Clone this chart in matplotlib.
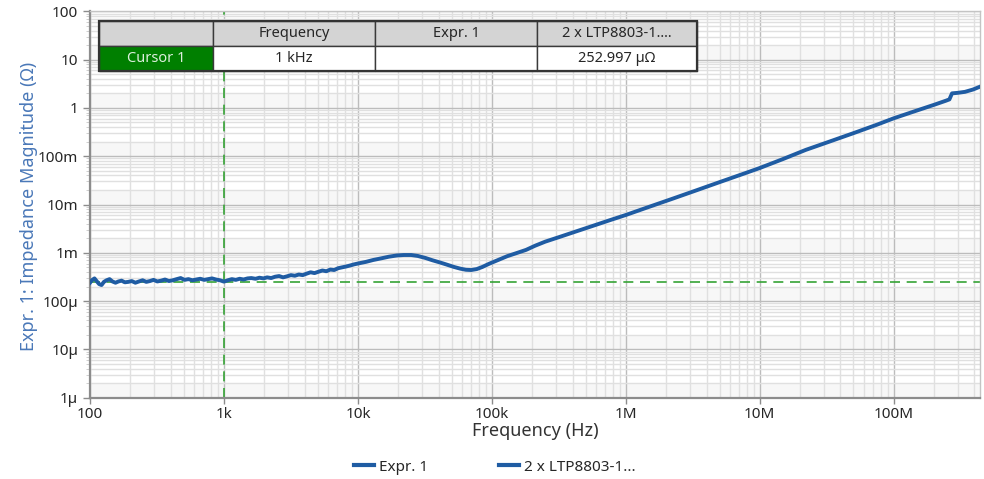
import matplotlib
matplotlib.use("Agg")
import matplotlib.pyplot as plt
from matplotlib.patches import Rectangle
from matplotlib.lines import Line2D
from matplotlib.ticker import LogLocator, NullFormatter, FixedLocator
import numpy as np

plt.rcParams["font.family"] = ["Noto Sans", "DejaVu Sans"]

# ---- measured impedance of 2 x LTP8803-1 (Hz, Ohm) ----
freq_hz = [
    100, 104, 108, 112, 117, 122, 127, 133, 140, 147, 155, 163, 172, 182, 193,
    205, 218, 232, 247, 263, 280, 298, 318, 340, 363, 388, 415, 444, 475, 508,
    543, 581, 622, 665, 712, 762, 815, 872, 933, 1000,
    1070, 1145, 1225, 1310, 1400, 1500, 1600, 1720, 1840, 1970, 2100, 2250,
    2410, 2580, 2760, 2950, 3160, 3380, 3620, 3870, 4140, 4430, 4740, 5070,
    5430, 5810, 6220, 6650, 7120, 7620, 8150, 8720, 9330, 10000,
    11500, 13000, 15000, 17000, 19500, 22000, 25000, 28000, 32000, 36000,
    41000, 46000, 52000, 58000, 64000, 70000, 77000, 85000, 95000, 110000,
    130000, 155000, 180000, 210000, 250000, 320000, 420000, 560000, 750000,
    1.0e6, 1.5e6, 2.2e6, 3.3e6, 5.0e6, 7.5e6, 1.0e7, 1.5e7, 2.2e7, 3.3e7,
    5.0e7, 7.5e7, 1.0e8, 1.5e8, 2.0e8, 2.45e8, 2.6e8, 2.72e8, 3.0e8, 3.4e8,
    3.9e8, 4.4e8,
]
impedance_uohm = [
    240, 275, 295, 260, 225, 215, 250, 270, 285, 255, 240, 255, 265, 245, 250,
    260, 240, 255, 270, 250, 260, 275, 255, 265, 280, 260, 270, 285, 300, 275,
    285, 270, 280, 290, 275, 285, 295, 280, 270, 253,
    270, 285, 275, 290, 280, 295, 300, 290, 305, 295, 310, 300,
    320, 330, 310, 325, 345, 335, 355, 345, 370, 395, 380, 405,
    430, 415, 450, 440, 480, 500, 520, 545, 575, 600,
    650, 710, 770, 830, 880, 900, 900, 860, 780, 700,
    630, 570, 510, 470, 445, 440, 460, 510, 590, 700,
    850, 1000, 1150, 1400, 1700, 2130, 2740, 3570, 4680,
    6070, 9000, 13000, 19300, 29000, 43000, 57000, 88000, 135000, 200000,
    300000, 450000, 610000, 890000, 1160000, 1410000, 1500000, 2000000, 2050000, 2150000,
    2400000, 2750000,
]

# ---- cursor readout ----
cursor_freq_hz = 1e3
cursor_value_ohm = 252.997e-6
table_header = ["", "Frequency", "Expr. 1", "2 x LTP8803-1...."]
table_row = ["Cursor 1", "1 kHz", "", "252.997 µΩ"]

# ---- axis ticks ----
x_ticks = [1e2, 1e3, 1e4, 1e5, 1e6, 1e7, 1e8]
x_tick_labels = ["100", "1k", "10k", "100k", "1M", "10M", "100M"]
y_ticks = [1e-6, 1e-5, 1e-4, 1e-3, 1e-2, 1e-1, 1, 10, 100]
y_tick_labels = ["1µ", "10µ", "100µ", "1m", "10m", "100m", "1", "10", "100"]

legend_labels = ["Expr. 1", "2 x LTP8803-1..."]

W, H = 984, 479
fig = plt.figure(figsize=(W / 100, H / 100), dpi=100)
fig.patch.set_facecolor("white")

ax_l, ax_r, ax_t, ax_b = 90, 980, 11.3, 397.7
ax = fig.add_axes([ax_l / W, 1 - ax_b / H, (ax_r - ax_l) / W, (ax_b - ax_t) / H])
ax.set_xscale("log")
ax.set_yscale("log")
ax.set_xlim(100, 4.4e8)
ax.set_ylim(1e-6, 100)

# shaded strip between 1 and 2 of every decade
for d in range(-6, 2):
    ax.axhspan(10.0 ** d, 2 * 10.0 ** d, color="#f7f7f7", lw=0, zorder=0)

ax.xaxis.set_major_locator(FixedLocator(x_ticks))
ax.set_xticklabels(x_tick_labels)
ax.yaxis.set_major_locator(FixedLocator(y_ticks))
ax.set_yticklabels(y_tick_labels)
for axis in (ax.xaxis, ax.yaxis):
    axis.set_minor_locator(LogLocator(base=10, subs=np.arange(2, 10), numticks=100))
    axis.set_minor_formatter(NullFormatter())

ax.set_axisbelow(True)
ax.grid(which="major", color="#bcbcbc", lw=1.0)
ax.grid(which="minor", color="#e0e0e0", lw=1.0)

ax.tick_params(axis="both", which="major", color="#8c8c8c", labelsize=11,
               labelcolor="#262626", width=1)
ax.tick_params(axis="y", which="major", length=5, pad=3.5)
ax.tick_params(axis="x", which="major", length=4, pad=2.5)
ax.tick_params(axis="y", which="minor", length=3, color="#c8c8c8")
ax.tick_params(axis="x", which="minor", length=0)

for side in ("left", "bottom"):
    ax.spines[side].set_color("#8c8c8c")
    ax.spines[side].set_linewidth(1.6)
for side in ("top", "right"):
    ax.spines[side].set_color("#c4c4c4")
    ax.spines[side].set_linewidth(1.0)

curve_color = "#1f5ca3"
cursor_color = "#36a336"

ax.axvline(cursor_freq_hz, color=cursor_color, lw=1.2, ls=(0, (6, 4)), zorder=2.5)
ax.axhline(cursor_value_ohm, color=cursor_color, lw=1.2, ls=(0, (6, 4)), zorder=2.5)

ax.plot([], [], color=curve_color, lw=2.8, label=legend_labels[0])
ax.plot(freq_hz, np.array(impedance_uohm) * 1e-6, color=curve_color, lw=2.8,
        solid_joinstyle="round", zorder=3, label=legend_labels[1])

ax.set_xlabel("Frequency (Hz)", fontsize=13, color="#333333")
ax.xaxis.set_label_coords(0.5, -0.064)
ax.set_ylabel("Expr. 1: Impedance Magnitude (Ω)", fontsize=13, color="#4a78b8")
ax.yaxis.set_label_coords(-0.058, 0.495)

# legend under the plot
handles = [Line2D([], [], color=curve_color, lw=3) for _ in legend_labels]
fig.legend(handles, legend_labels, loc="center", bbox_to_anchor=(0.503, 0.025),
           ncol=2, frameon=False, fontsize=11, handlelength=1.3,
           handletextpad=0.35, columnspacing=4.6, labelcolor="#262626")

# cursor readout table
col_edges = [99, 213, 375, 537, 697]
row_edges = [20.7, 45.7, 71]


def fx(px):
    return px / W


def fy(py):
    return 1 - py / H


for r, cells in enumerate([table_header, table_row]):
    y0, y1 = row_edges[r], row_edges[r + 1]
    for c, txt in enumerate(cells):
        x0, x1 = col_edges[c], col_edges[c + 1]
        if r == 0:
            face, tcol = "#d4d4d4", "#262626"
        elif c == 0:
            face, tcol = "#007f00", "#dcefdc"
        else:
            face, tcol = "white", "#262626"
        fig.add_artist(Rectangle((fx(x0), fy(y1)), fx(x1) - fx(x0), fy(y0) - fy(y1),
                                 transform=fig.transFigure, facecolor=face,
                                 edgecolor="#3a3a3a", lw=1.0, zorder=10))
        if txt:
            fig.text(fx((x0 + x1) / 2), fy((y0 + y1) / 2), txt, ha="center",
                     va="center", fontsize=10.5, color=tcol, zorder=11)
fig.add_artist(Rectangle((fx(col_edges[0]), fy(row_edges[-1])),
                         fx(col_edges[-1]) - fx(col_edges[0]),
                         fy(row_edges[0]) - fy(row_edges[-1]),
                         transform=fig.transFigure, facecolor="none",
                         edgecolor="#333333", lw=1.6, zorder=12))

fig.savefig("out.png", dpi=100)
